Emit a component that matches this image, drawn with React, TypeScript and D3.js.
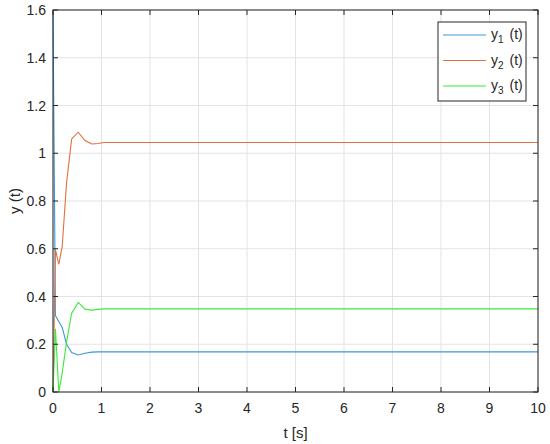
import React, { useEffect, useRef } from 'react';
import * as d3 from 'd3';

// simulation samples (t in seconds)
const tValues = [0, 0.05, 0.12, 0.19, 0.28, 0.385, 0.52, 0.66, 0.8, 0.93, 1.05, 2, 3, 4, 5, 6, 7, 8, 9, 10];
const y1Values = [1.6, 0.32, 0.295, 0.27, 0.2, 0.165, 0.155, 0.162, 0.167, 0.168, 0.168, 0.168, 0.168, 0.168, 0.168, 0.168, 0.168, 0.168, 0.168, 0.168];
const y2Values = [0, 0.596, 0.535, 0.61, 0.877, 1.06, 1.088, 1.053, 1.039, 1.041, 1.045, 1.045, 1.045, 1.045, 1.045, 1.045, 1.045, 1.045, 1.045, 1.045];
const y3Values = [0, 0.265, 0.0, 0.08, 0.21, 0.33, 0.375, 0.347, 0.343, 0.346, 0.348, 0.348, 0.348, 0.348, 0.348, 0.348, 0.348, 0.348, 0.348, 0.348];

const seriesNames = ['1', '2', '3'];
const seriesColors = ['#3a98d8', '#e2703f', '#3de83d'];
const xTicks = [0, 1, 2, 3, 4, 5, 6, 7, 8, 9, 10];
const yTicks = [0, 0.2, 0.4, 0.6, 0.8, 1, 1.2, 1.4, 1.6];

const App = () => {
  const svgRef = useRef(null);

  useEffect(() => {
    if (!svgRef.current) return;
    const svg = d3.select(svgRef.current);
    svg.selectAll('*').remove();

    const width = 550;
    const height = 444;
    const margin = { top: 10, right: 12, bottom: 52, left: 53 };
    const w = width - margin.left - margin.right;
    const h = height - margin.top - margin.bottom;
    const font = 'Liberation Sans, Arial, sans-serif';
    const axisColor = '#262626';

    const g = svg.append('g').attr('transform', `translate(${margin.left},${margin.top})`);

    const x = d3.scaleLinear().domain([0, 10]).range([0, w]);
    const y = d3.scaleLinear().domain([0, 1.6]).range([h, 0]);

    g.append('rect').attr('width', w).attr('height', h).attr('fill', '#fff');

    // grid
    g.selectAll('.gx').data(xTicks).enter().append('line')
      .attr('x1', d => x(d)).attr('x2', d => x(d))
      .attr('y1', 0).attr('y2', h)
      .attr('stroke', '#e3e3e3').attr('stroke-width', 1);
    g.selectAll('.gy').data(yTicks).enter().append('line')
      .attr('x1', 0).attr('x2', w)
      .attr('y1', d => y(d)).attr('y2', d => y(d))
      .attr('stroke', '#e3e3e3').attr('stroke-width', 1);

    // lines
    const seriesData = [y1Values, y2Values, y3Values];
    const line = d3.line<number>()
      .x((_, i) => x(tValues[i]))
      .y(d => y(d));
    seriesData.forEach((vals, k) => {
      g.append('path')
        .attr('d', line(vals))
        .attr('fill', 'none')
        .attr('stroke', seriesColors[k])
        .attr('stroke-width', 1.1);
    });

    // box + inner ticks
    g.append('rect').attr('width', w).attr('height', h)
      .attr('fill', 'none').attr('stroke', axisColor).attr('stroke-width', 1);
    const tl = 5;
    xTicks.forEach(t => {
      g.append('line').attr('x1', x(t)).attr('x2', x(t)).attr('y1', h).attr('y2', h - tl).attr('stroke', axisColor);
      g.append('line').attr('x1', x(t)).attr('x2', x(t)).attr('y1', 0).attr('y2', tl).attr('stroke', axisColor);
      g.append('text').attr('x', x(t)).attr('y', h + 21)
        .attr('text-anchor', 'middle').attr('font-family', font).attr('font-size', 14)
        .attr('fill', axisColor).text(d3.format('~g')(t));
    });
    yTicks.forEach(t => {
      g.append('line').attr('x1', 0).attr('x2', tl).attr('y1', y(t)).attr('y2', y(t)).attr('stroke', axisColor);
      g.append('line').attr('x1', w).attr('x2', w - tl).attr('y1', y(t)).attr('y2', y(t)).attr('stroke', axisColor);
      g.append('text').attr('x', -7).attr('y', y(t) + 5)
        .attr('text-anchor', 'end').attr('font-family', font).attr('font-size', 14)
        .attr('fill', axisColor).text(d3.format('~g')(t));
    });

    // axis labels
    g.append('text').attr('x', w / 2).attr('y', h + 46)
      .attr('text-anchor', 'middle').attr('font-family', font).attr('font-size', 15)
      .attr('fill', axisColor).text('t [s]');
    g.append('text')
      .attr('transform', `translate(${-33},${h / 2}) rotate(-90)`)
      .attr('text-anchor', 'middle').attr('font-family', font).attr('font-size', 15)
      .attr('fill', axisColor).text('y (t)');

    // legend
    const lg = svg.append('g').attr('transform', 'translate(438,22)');
    lg.append('rect').attr('width', 88).attr('height', 79)
      .attr('fill', '#fff').attr('stroke', axisColor).attr('stroke-width', 1);
    seriesNames.forEach((n, i) => {
      const yy = 13 + i * 25.5;
      lg.append('line').attr('x1', 5).attr('x2', 48).attr('y1', yy).attr('y2', yy)
        .attr('stroke', seriesColors[i]).attr('stroke-width', 1.1);
      const tx = lg.append('text').attr('x', 53).attr('y', yy + 4)
        .attr('font-family', font).attr('font-size', 14).attr('fill', axisColor);
      tx.append('tspan').text('y');
      tx.append('tspan').attr('font-size', 10).attr('dy', 4).text(n);
      tx.append('tspan').attr('dy', -4).attr('dx', 6).text('(t)');
    });
  }, []);

  return (
    <div style={{ position: 'absolute', left: 0, top: 0 }}>
      <svg ref={svgRef} width={550} height={444} style={{ display: 'block', background: '#fff' }}></svg>
    </div>
  );
};

export default App;
